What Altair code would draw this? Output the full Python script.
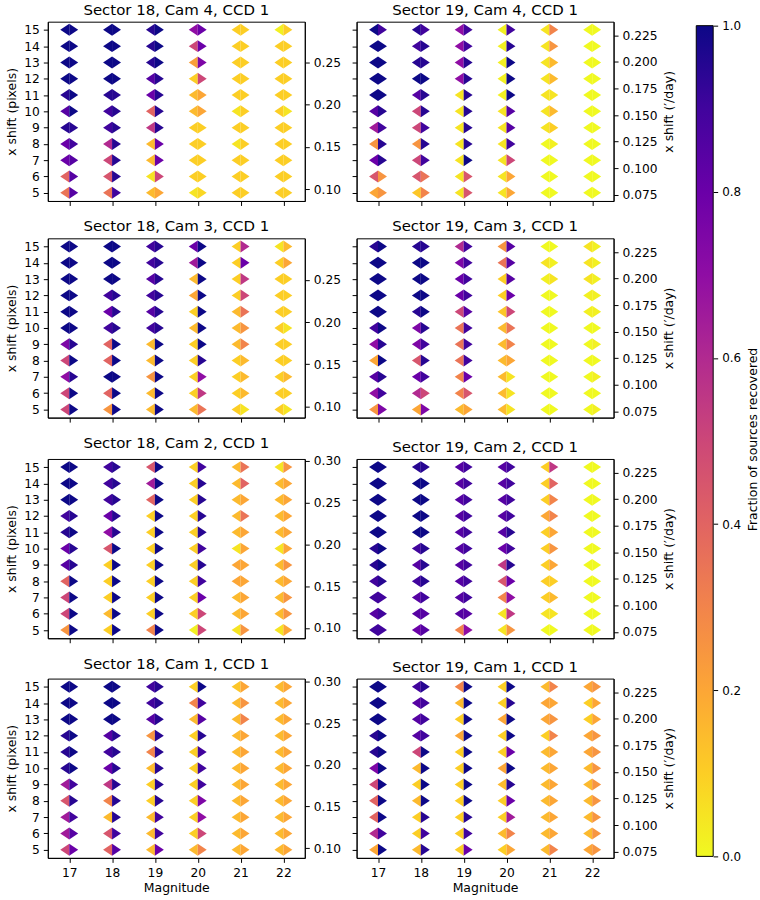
import altair as alt
import pandas as pd

# Grid of the injection-recovery test
MAGS = [17, 18, 19, 20, 21, 22]
SHIFTS = [15, 14, 13, 12, 11, 10, 9, 8, 7, 6, 5]  # row order, top to bottom

# Fraction recovered: left half / right half of each diamond, rows follow SHIFTS
S18_CAM4_L = [
    [1.0, 1.0, 0.95, 0.7, 0.1, 0.02],
    [1.0, 1.0, 0.95, 0.5, 0.1, 0.1],
    [1.0, 1.0, 0.95, 0.22, 0.1, 0.1],
    [1.0, 1.0, 0.85, 0.1, 0.1, 0.1],
    [0.95, 0.95, 0.8, 0.15, 0.1, 0.1],
    [0.85, 0.9, 0.4, 0.15, 0.05, 0.1],
    [0.95, 0.9, 0.55, 0.1, 0.1, 0.1],
    [0.8, 0.6, 0.15, 0.1, 0.05, 0.1],
    [0.8, 0.5, 0.15, 0.1, 0.1, 0.1],
    [0.4, 0.45, 0.05, 0.1, 0.1, 0.1],
    [0.35, 0.35, 0.15, 0.05, 0.1, 0.1],
]
S18_CAM4_R = [
    [1.0, 1.0, 1.0, 0.8, 0.1, 0.1],
    [1.0, 1.0, 1.0, 0.8, 0.1, 0.1],
    [1.0, 1.0, 1.0, 0.75, 0.1, 0.1],
    [1.0, 1.0, 0.95, 0.5, 0.1, 0.1],
    [1.0, 0.95, 0.95, 0.2, 0.1, 0.1],
    [1.0, 0.95, 0.95, 0.2, 0.1, 0.05],
    [0.95, 0.95, 0.95, 0.1, 0.1, 0.1],
    [0.9, 0.95, 0.8, 0.1, 0.1, 0.1],
    [0.85, 0.95, 0.8, 0.1, 0.1, 0.1],
    [0.85, 0.95, 0.5, 0.1, 0.1, 0.1],
    [0.85, 0.9, 0.2, 0.08, 0.1, 0.1],
]
S19_CAM4_L = [
    [1.0, 0.95, 0.7, 0.02, 0.05, 0.0],
    [1.0, 0.9, 0.7, 0.02, 0.05, 0.0],
    [1.0, 0.95, 0.7, 0.02, 0.05, 0.0],
    [1.0, 1.0, 0.7, 0.02, 0.05, 0.0],
    [1.0, 0.85, 0.05, 0.02, 0.05, 0.0],
    [0.85, 0.5, 0.05, 0.05, 0.05, 0.0],
    [0.65, 0.5, 0.05, 0.05, 0.05, 0.0],
    [0.25, 0.25, 0.05, 0.05, 0.0, 0.0],
    [0.8, 0.5, 0.05, 0.05, 0.0, 0.0],
    [0.45, 0.45, 0.05, 0.05, 0.0, 0.0],
    [0.2, 0.12, 0.05, 0.05, 0.0, 0.0],
]
S19_CAM4_R = [
    [0.9, 0.9, 0.9, 0.9, 0.3, 0.0],
    [1.0, 0.95, 0.9, 0.95, 0.25, 0.0],
    [1.0, 0.95, 0.95, 1.0, 0.15, 0.0],
    [1.0, 1.0, 0.95, 1.0, 0.15, 0.0],
    [1.0, 0.95, 0.95, 1.0, 0.05, 0.0],
    [0.95, 0.95, 0.95, 0.85, 0.15, 0.0],
    [0.9, 0.9, 0.95, 0.85, 0.1, 0.0],
    [0.95, 0.95, 0.95, 0.9, 0.02, 0.0],
    [0.95, 0.9, 1.0, 0.5, 0.0, 0.0],
    [0.25, 0.35, 0.45, 0.2, 0.0, 0.0],
    [0.25, 0.3, 0.45, 0.2, 0.0, 0.0],
]
S18_CAM3_L = [
    [1.0, 1.0, 0.9, 0.8, 0.1, 0.05],
    [1.0, 1.0, 0.9, 0.65, 0.1, 0.1],
    [1.0, 1.0, 0.85, 0.15, 0.1, 0.1],
    [1.0, 0.9, 0.9, 0.2, 0.1, 0.1],
    [1.0, 0.8, 0.85, 0.1, 0.15, 0.1],
    [1.0, 0.9, 0.9, 0.15, 0.15, 0.1],
    [0.75, 0.4, 0.15, 0.1, 0.15, 0.1],
    [0.5, 0.4, 0.15, 0.1, 0.1, 0.1],
    [0.7, 1.0, 0.25, 0.1, 0.1, 0.1],
    [0.5, 0.4, 0.15, 0.1, 0.1, 0.1],
    [0.5, 0.25, 0.15, 0.15, 0.1, 0.1],
]
S18_CAM3_R = [
    [1.0, 1.0, 0.95, 1.0, 0.6, 0.15],
    [1.0, 1.0, 0.95, 1.0, 0.8, 0.2],
    [1.0, 1.0, 0.95, 1.0, 0.55, 0.1],
    [1.0, 0.95, 0.95, 1.0, 0.5, 0.1],
    [1.0, 0.95, 0.95, 1.0, 0.35, 0.1],
    [1.0, 0.95, 0.95, 1.0, 0.25, 0.05],
    [0.95, 1.0, 1.0, 1.0, 0.3, 0.1],
    [1.0, 1.0, 1.0, 0.95, 0.15, 0.1],
    [0.95, 1.0, 1.0, 0.7, 0.15, 0.15],
    [1.0, 1.0, 1.0, 0.55, 0.15, 0.1],
    [1.0, 1.0, 1.0, 0.35, 0.05, 0.05],
]
S19_CAM3_L = [
    [0.95, 0.95, 0.6, 0.25, 0.0, 0.05],
    [1.0, 1.0, 0.75, 0.35, 0.05, 0.05],
    [1.0, 1.0, 0.8, 0.1, 0.02, 0.05],
    [1.0, 1.0, 0.8, 0.1, 0.0, 0.02],
    [1.0, 0.95, 0.5, 0.12, 0.0, 0.02],
    [0.9, 0.75, 0.35, 0.15, 0.0, 0.0],
    [0.7, 0.75, 0.35, 0.15, 0.0, 0.0],
    [0.2, 0.45, 0.35, 0.15, 0.0, 0.0],
    [0.85, 0.8, 0.3, 0.15, 0.0, 0.0],
    [0.7, 0.6, 0.3, 0.15, 0.0, 0.0],
    [0.25, 0.2, 0.15, 0.15, 0.0, 0.0],
]
S19_CAM3_R = [
    [1.0, 0.95, 0.9, 0.85, 0.0, 0.02],
    [1.0, 1.0, 0.9, 0.85, 0.02, 0.02],
    [1.0, 1.0, 0.9, 0.85, 0.05, 0.02],
    [1.0, 1.0, 0.9, 0.8, 0.0, 0.02],
    [1.0, 1.0, 0.85, 0.5, 0.0, 0.02],
    [1.0, 0.95, 0.9, 0.35, 0.0, 0.0],
    [0.95, 0.9, 0.9, 0.3, 0.0, 0.02],
    [1.0, 0.95, 0.9, 0.2, 0.0, 0.0],
    [0.95, 0.9, 0.8, 0.05, 0.0, 0.02],
    [0.9, 0.5, 0.45, 0.05, 0.0, 0.0],
    [0.75, 0.75, 0.2, 0.05, 0.0, 0.02],
]
S18_CAM2_L = [
    [1.0, 0.9, 0.45, 0.1, 0.15, 0.05],
    [1.0, 0.9, 0.65, 0.1, 0.15, 0.15],
    [1.0, 0.9, 0.4, 0.1, 0.15, 0.15],
    [0.9, 0.8, 0.1, 0.1, 0.15, 0.15],
    [0.95, 0.7, 0.1, 0.1, 0.15, 0.15],
    [0.8, 0.45, 0.1, 0.1, 0.05, 0.05],
    [0.85, 0.1, 0.1, 0.1, 0.2, 0.15],
    [0.4, 0.1, 0.1, 0.1, 0.2, 0.15],
    [0.5, 0.1, 0.1, 0.1, 0.15, 0.15],
    [0.5, 0.15, 0.1, 0.1, 0.15, 0.15],
    [0.25, 0.1, 0.3, 0.02, 0.05, 0.05],
]
S18_CAM2_R = [
    [1.0, 0.95, 1.0, 0.9, 0.35, 0.25],
    [1.0, 0.95, 1.0, 0.95, 0.4, 0.2],
    [1.0, 0.95, 1.0, 0.95, 0.2, 0.2],
    [0.95, 0.95, 1.0, 0.95, 0.35, 0.2],
    [1.0, 0.95, 1.0, 0.95, 0.2, 0.2],
    [0.95, 1.0, 1.0, 0.9, 0.2, 0.2],
    [0.95, 1.0, 1.0, 0.95, 0.2, 0.25],
    [1.0, 1.0, 1.0, 0.9, 0.2, 0.2],
    [1.0, 1.0, 1.0, 0.8, 0.2, 0.25],
    [1.0, 1.0, 1.0, 0.5, 0.2, 0.25],
    [1.0, 1.0, 1.0, 0.5, 0.25, 0.2],
]
S19_CAM2_L = [
    [1.0, 0.95, 0.85, 0.85, 0.1, 0.0],
    [1.0, 1.0, 0.85, 0.85, 0.1, 0.0],
    [1.0, 1.0, 0.85, 0.85, 0.1, 0.0],
    [1.0, 1.0, 0.85, 0.85, 0.2, 0.0],
    [1.0, 1.0, 0.85, 0.85, 0.1, 0.0],
    [0.95, 0.9, 0.85, 0.8, 0.1, 0.0],
    [0.95, 0.85, 0.85, 0.55, 0.1, 0.0],
    [0.9, 0.9, 0.85, 0.45, 0.1, 0.0],
    [0.9, 0.85, 0.85, 0.3, 0.1, 0.0],
    [0.85, 0.85, 0.85, 0.05, 0.05, 0.0],
    [0.9, 0.8, 0.3, 0.05, 0.0, 0.0],
]
S19_CAM2_R = [
    [1.0, 0.95, 0.9, 0.9, 0.55, 0.0],
    [1.0, 1.0, 0.9, 0.9, 0.4, 0.0],
    [1.0, 1.0, 0.9, 0.9, 0.3, 0.0],
    [1.0, 1.0, 0.9, 0.9, 0.3, 0.0],
    [1.0, 1.0, 0.9, 0.95, 0.2, 0.0],
    [1.0, 0.95, 0.9, 0.9, 0.25, 0.0],
    [1.0, 0.95, 0.9, 0.95, 0.2, 0.0],
    [0.95, 0.95, 0.9, 0.8, 0.1, 0.0],
    [0.9, 0.9, 0.9, 0.7, 0.15, 0.0],
    [0.9, 0.85, 0.85, 0.55, 0.05, 0.0],
    [0.9, 0.85, 0.7, 0.25, 0.0, 0.0],
]
S18_CAM1_L = [
    [1.0, 1.0, 0.9, 0.1, 0.12, 0.15],
    [1.0, 1.0, 0.9, 0.3, 0.15, 0.15],
    [1.0, 1.0, 0.85, 0.15, 0.15, 0.15],
    [0.95, 0.85, 0.25, 0.1, 0.15, 0.15],
    [0.95, 0.9, 0.3, 0.1, 0.15, 0.15],
    [0.95, 0.8, 0.15, 0.1, 0.15, 0.15],
    [0.65, 0.55, 0.1, 0.1, 0.15, 0.15],
    [0.45, 0.3, 0.1, 0.1, 0.15, 0.15],
    [0.65, 0.15, 0.15, 0.1, 0.15, 0.15],
    [0.65, 0.45, 0.15, 0.1, 0.15, 0.15],
    [0.5, 0.4, 0.15, 0.15, 0.15, 0.15],
]
S18_CAM1_R = [
    [1.0, 1.0, 0.95, 1.0, 0.2, 0.2],
    [1.0, 1.0, 0.95, 0.9, 0.25, 0.2],
    [1.0, 1.0, 0.95, 0.85, 0.3, 0.2],
    [1.0, 0.95, 0.95, 0.95, 0.2, 0.2],
    [1.0, 0.95, 0.95, 0.9, 0.2, 0.2],
    [1.0, 0.95, 0.95, 0.9, 0.2, 0.2],
    [0.9, 0.95, 0.95, 0.9, 0.2, 0.2],
    [0.95, 0.95, 0.95, 0.75, 0.2, 0.2],
    [0.9, 0.95, 0.9, 0.7, 0.2, 0.2],
    [0.85, 0.9, 0.9, 0.5, 0.2, 0.2],
    [0.8, 0.85, 0.8, 0.3, 0.2, 0.2],
]
S19_CAM1_L = [
    [1.0, 0.9, 0.3, 0.1, 0.15, 0.2],
    [1.0, 0.85, 0.15, 0.1, 0.2, 0.1],
    [1.0, 0.85, 0.1, 0.2, 0.2, 0.1],
    [0.95, 0.85, 0.2, 0.1, 0.1, 0.2],
    [0.95, 0.5, 0.1, 0.1, 0.15, 0.2],
    [0.75, 0.15, 0.1, 0.2, 0.15, 0.15],
    [0.5, 0.1, 0.1, 0.15, 0.15, 0.15],
    [0.4, 0.15, 0.1, 0.1, 0.15, 0.15],
    [0.4, 0.1, 0.1, 0.1, 0.15, 0.15],
    [0.6, 0.1, 0.1, 0.15, 0.15, 0.15],
    [0.2, 0.15, 0.1, 0.1, 0.15, 0.2],
]
S19_CAM1_R = [
    [1.0, 0.95, 1.0, 1.0, 0.3, 0.25],
    [1.0, 0.9, 1.0, 0.95, 0.2, 0.2],
    [1.0, 0.9, 1.0, 1.0, 0.25, 0.2],
    [1.0, 0.9, 1.0, 1.0, 0.3, 0.25],
    [1.0, 1.0, 1.0, 0.8, 0.2, 0.25],
    [1.0, 1.0, 1.0, 1.0, 0.2, 0.25],
    [1.0, 1.0, 1.0, 0.95, 0.2, 0.25],
    [1.0, 1.0, 1.0, 0.8, 0.2, 0.25],
    [1.0, 0.95, 0.95, 0.65, 0.2, 0.25],
    [0.9, 0.9, 0.9, 0.3, 0.2, 0.25],
    [1.0, 0.95, 0.8, 0.2, 0.3, 0.25],
]

# Pixel shift -> angular rate ('/day) for each sector/camera
RATE_PER_PIXEL = {
    (18, 4): 0.0192, (18, 3): 0.0193, (18, 2): 0.0195, (18, 1): 0.0196,
    (19, 4): 0.01535, (19, 3): 0.01535, (19, 2): 0.01535, (19, 1): 0.01535,
}
RATE_TICKS = {
    18: [0.10, 0.15, 0.20, 0.25, 0.30],
    19: [0.075, 0.100, 0.125, 0.150, 0.175, 0.200, 0.225],
}
RATE_FORMAT = {18: ".2f", 19: ".3f"}

PANELS = [
    (4, S18_CAM4_L, S18_CAM4_R, S19_CAM4_L, S19_CAM4_R),
    (3, S18_CAM3_L, S18_CAM3_R, S19_CAM3_L, S19_CAM3_R),
    (2, S18_CAM2_L, S18_CAM2_R, S19_CAM2_L, S19_CAM2_R),
    (1, S18_CAM1_L, S18_CAM1_R, S19_CAM1_L, S19_CAM1_R),
]

# Colour bar
CBAR_TICKS = [0.0, 0.2, 0.4, 0.6, 0.8, 1.0]
# reversed plasma, bottom (0) to top (1)
PLASMA_R = ["#f0f921", "#fcce25", "#fca636", "#f2844b", "#e16462", "#cc4778",
            "#b12a90", "#8f0da4", "#6a00a8", "#41049d", "#0d0887"]

# Half-diamond glyphs (wider than tall)
LEFT_TRI = "M0,-0.667L-1,0L0,0.667Z"
RIGHT_TRI = "M0,-0.667L1,0L0,0.667Z"

PANEL_W, PANEL_H = 258, 180
SHIFT_DOMAIN = [4.5, 15.5]
CBAR_LEN = 834        # length of the gradient bar, px
CBAR_TOP_PAD = 4      # empty space above the bar inside its view, px


def to_frame(left, right):
    rows = []
    for i, s in enumerate(SHIFTS):
        for j, m in enumerate(MAGS):
            rows.append({"mag": m, "shift": s, "half": "L", "frac": left[i][j]})
            rows.append({"mag": m, "shift": s, "half": "R", "frac": right[i][j]})
    return pd.DataFrame(rows)


color = alt.Color(
    "frac:Q",
    scale=alt.Scale(range=PLASMA_R, domain=[i / 10 for i in range(11)], interpolate="rgb"),
    legend=None,
)


def panel(sector, cam, left, right, first_col, last_row):
    df = to_frame(left, right)
    k = RATE_PER_PIXEL[(sector, cam)]
    x = alt.X(
        "mag:Q",
        scale=alt.Scale(domain=[16.5, 22.5], nice=False, zero=False),
        axis=alt.Axis(values=MAGS, format="d", labels=last_row, titlePadding=3,
                      title="Magnitude" if last_row else None),
    )
    y_axis = alt.Axis(values=list(range(5, 16)), format="d", labels=first_col,
                      title="x shift (pixels)" if first_col else None)
    diamonds = alt.Chart(df).mark_point(filled=True, opacity=1, size=324).encode(
        x=x,
        y=alt.Y("shift:Q", scale=alt.Scale(domain=SHIFT_DOMAIN, nice=False, zero=False), axis=y_axis),
        shape=alt.Shape("half:N", scale=alt.Scale(domain=["L", "R"], range=[LEFT_TRI, RIGHT_TRI]), legend=None),
        color=color,
    )
    rate_axis = alt.Axis(orient="right", values=RATE_TICKS[sector], format=RATE_FORMAT[sector],
                         title=None if first_col else "x shift (\u2032/day)", titleAngle=270,
                         titleBaseline="top")
    rate = alt.Chart(df).transform_calculate(rate=f"datum.shift * {k}").mark_point(opacity=0).encode(
        x=x,
        y=alt.Y(
            "rate:Q",
            scale=alt.Scale(domain=[SHIFT_DOMAIN[0] * k, SHIFT_DOMAIN[1] * k], nice=False, zero=False),
            axis=rate_axis,
        ),
    )
    return alt.layer(diamonds, rate).resolve_scale(y="independent").properties(
        width=PANEL_W,
        height=PANEL_H,
        title=alt.TitleParams(f"Sector {sector}, Cam {cam}, CCD 1", fontSize=15,
                              fontWeight="normal", anchor="middle", offset=4, color="black"),
    )


rows = []
for r, (cam, l18, r18, l19, r19) in enumerate(PANELS):
    last = r == len(PANELS) - 1
    rows.append(alt.hconcat(panel(18, cam, l18, r18, True, last),
                            panel(19, cam, l19, r19, False, last), spacing=9))
grid = alt.vconcat(*rows, spacing=11.5)

# colour bar: one gradient-filled rect from 0 to 1 on its own axis
cbar_span = pd.DataFrame({"lo": [CBAR_TICKS[0]], "hi": [CBAR_TICKS[-1]]})
top = 1.0 + CBAR_TOP_PAD / CBAR_LEN
cbar = alt.Chart(cbar_span).mark_rect(
    fill=alt.Gradient(
        gradient="linear", x1=0, y1=1, x2=0, y2=0,
        stops=[alt.GradientStop(offset=i / 10, color=c) for i, c in enumerate(PLASMA_R)],
    ),
    stroke="black", strokeWidth=1,
).encode(
    x=alt.value(0), x2=alt.value(17),
    y=alt.Y("lo:Q", scale=alt.Scale(domain=[0, top], nice=False, zero=False),
            axis=alt.Axis(orient="right", values=CBAR_TICKS, format=".1f", domain=False,
                          labelFontSize=12, labelPadding=4, tickSize=4.5,
                          title="Fraction of sources recovered", titleAngle=270,
                          titleBaseline="top", titlePadding=6, titleFontSize=12.5)),
    y2="hi:Q",
).properties(width=17, height=CBAR_LEN + CBAR_TOP_PAD,
             view=alt.ViewBackground(stroke="transparent"))

chart = alt.hconcat(grid, cbar, spacing=20).properties(
    padding={"left": 5, "top": 0, "right": 0, "bottom": 0},
    background="white",
).configure(font="DejaVu Sans").configure_axis(
    labelFontSize=12.3, titleFontSize=12.5, titleFontWeight="normal",
    labelColor="black", titleColor="black", tickColor="black", domainColor="black",
    tickSize=4.5, labelPadding=4, titlePadding=5, grid=False,
).configure_view(stroke="black", strokeWidth=1)

chart.save("out.html", embed_options={"renderer": "svg", "actions": False})
